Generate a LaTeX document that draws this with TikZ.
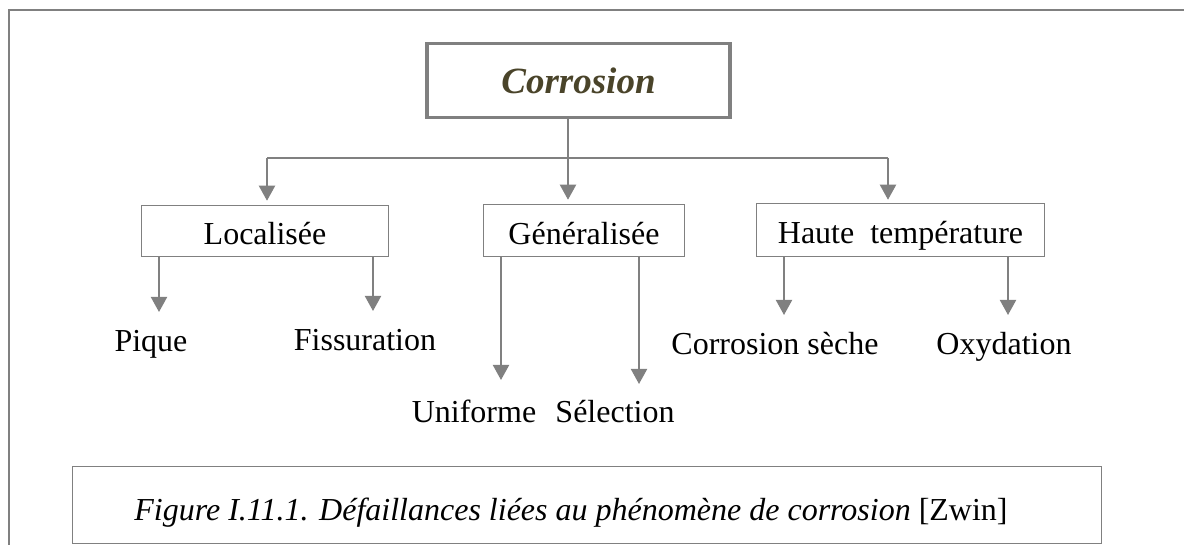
\documentclass[tikz,border=0pt]{standalone}
\usepackage{fontspec}
\setmainfont{Liberation Serif}
\usetikzlibrary{arrows.meta}
\definecolor{lineColor}{RGB}{128,128,128}
\definecolor{titleColor}{RGB}{74,68,42}
\tikzstyle{diagram} = [x = 1pt, y = -1pt]
\tikzstyle{frameLine} = [color=lineColor, line width=2.5pt]
\tikzstyle{titleBox} = [draw=lineColor, line width=3.5pt, inner sep=0pt, minimum width=303pt, minimum height=74pt, text=titleColor, font=\fontsize{37}{44}\selectfont\bfseries\itshape]
\tikzstyle{typeBox} = [draw=lineColor, line width=1.5pt, inner sep=0pt, text height=30pt, text depth=2pt, font=\fontsize{32}{38}\selectfont]
\tikzstyle{leafText} = [anchor=base, inner sep=0pt, font=\fontsize{32}{38}\selectfont]
\tikzstyle{captionBox} = [draw=lineColor, line width=1.5pt, inner sep=0pt, minimum width=1029pt, minimum height=77pt]
\tikzstyle{branchLine} = [color=lineColor, line width=2pt]
\tikzstyle{branchArrow} = [branchLine, -{Triangle[length=15pt, width=16pt]}]
\newcommand{\typeBox}[5]{\node [typeBox, minimum width=#3, minimum height=#4] (#1) at #2 {#5};}

\begin{document}
\begin{tikzpicture}[diagram]
  \useasboundingbox (0,0) rectangle (1184,545);
  \draw [frameLine] (9,545) -- (9,10) -- (1184,10);

  % root and the three kinds
  \node [titleBox] (corr) at (578.5,80.5) {Corrosion};
  \typeBox{loc}{(265,231)}{247pt}{51pt}{Localisée}
  \typeBox{gen}{(584,230.5)}{201pt}{52pt}{Généralisée}
  \typeBox{haute}{(900.5,230)}{288pt}{53pt}{Haute\ \ température}

  \coordinate (hub) at (568,158);
  \coordinate (hubLeft) at (267,158);
  \coordinate (hubRight) at (888,158);
  \draw [branchLine] (hub |- corr.south) -- (hub);
  \draw [branchLine] (hubLeft) -- (hubRight);
  \draw [branchArrow, shorten >=4pt] (hubLeft) -- (hubLeft |- loc.north);
  \draw [branchArrow, shorten >=4pt] (hub) -- (hub |- gen.north);
  \draw [branchArrow, shorten >=3pt] (hubRight) -- (hubRight |- haute.north);

  % leaves
  \node [leafText] (pique) at (151,352) {Pique};
  \node [leafText] (fiss) at (365,351) {Fissuration};
  \node [leafText] (unif) at (474,422) {Uniforme};
  \node [leafText] (select) at (615,422) {Sélection};
  \node [leafText] (seche) at (775,355) {Corrosion sèche};
  \node [leafText] (oxyd) at (1004,355) {Oxydation};

  \foreach \parent/\leaf/\tipX/\tipY in {loc/pique/159/312, loc/fiss/373/311,
      gen/unif/501/380, gen/select/639/384, haute/seche/784/315, haute/oxyd/1008/315} {
    \coordinate (\leaf Tip) at (\tipX,\tipY);
    \draw [branchArrow] (\parent.south -| \leaf Tip) -- (\leaf Tip);
  }

  % caption
  \node [captionBox] (caption) at (587,505) {};
  \node [leafText] (captionText) at (571,520) {\textit{Figure I.11.1. Défaillances liées au phénomène de corrosion} [Zwin]};
\end{tikzpicture}
\end{document}
